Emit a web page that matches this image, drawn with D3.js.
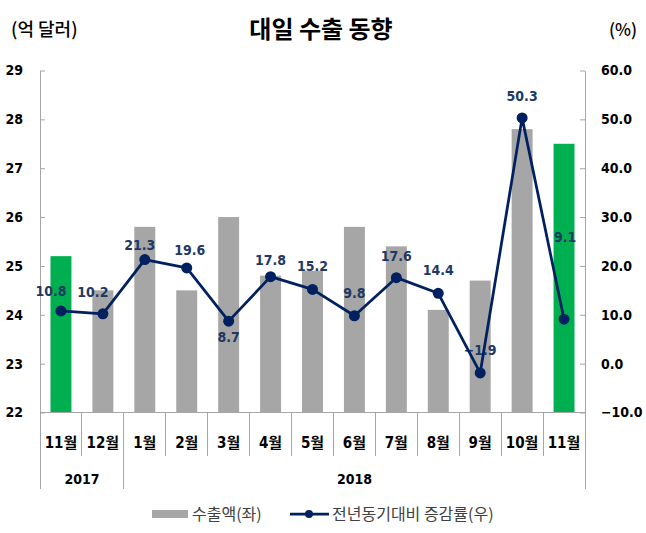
<!DOCTYPE html>
<html><head><meta charset="utf-8">
<script src="https://cdn.jsdelivr.net/npm/d3@7"></script>
<style>
html,body{margin:0;padding:0;background:#fff;}
svg{display:block;}
</style></head>
<body>
<svg id="c" width="646" height="533"></svg>
<script>
// ---- data ----
const months = ["11월","12월","1월","2월","3월","4월","5월","6월","7월","8월","9월","10월","11월"];
const years = [{label:"2017", from:0, to:2},{label:"2018", from:2, to:13}];
const exportsUSD = [25.2,24.5,25.8,24.5,26.0,24.8,24.9,25.8,25.4,24.1,24.7,27.8,27.5];
const yoyRate = [10.8,10.2,21.3,19.6,8.7,17.8,15.2,9.8,17.6,14.4,-1.9,50.3,9.1];
const highlight = [true,false,false,false,false,false,false,false,false,false,false,false,true];
const leftTicks = [22,23,24,25,26,27,28,29];
const rightTicks = [-10,0,10,20,30,40,50,60];

// ---- layout (label offsets, not data) ----
const labelDx = [-10,-10,-5,3,0,0,0,0,0,0,0,0,1];
const labelDy = [-15,-17,-10,-13,21,-12,-18,-18,-17,-18,-18,-17,-77];

const svg = d3.select("#c");
const L = 40, R = 585, T = 70.5, B = 412.5;
const fontNum = "'DejaVu Sans Condensed','DejaVu Sans','Noto Sans CJK KR',sans-serif";
const fontKR = "'Noto Sans CJK KR','DejaVu Sans',sans-serif";
const axisColor = "#A6A6A6";

const x = d3.scaleBand().domain(d3.range(months.length)).range([L,R]).paddingInner(0).paddingOuter(0);
const yL = d3.scaleLinear().domain([22,29]).range([B,T]);
const yR = d3.scaleLinear().domain([-10,60]).range([B,T]);

// title & unit labels
svg.append("text").attr("x",321).attr("y",38).attr("text-anchor","middle")
  .attr("font-family",fontKR).attr("font-weight","bold").attr("font-size",24).attr("fill","#000").text("대일 수출 동향");
svg.append("text").attr("x",11).attr("y",36).attr("font-family",fontKR).attr("font-weight",500).attr("font-size",18).attr("fill","#000").text("(억 달러)");
svg.append("text").attr("x",637).attr("y",36).attr("text-anchor","end").attr("font-family",fontKR).attr("font-weight",500).attr("font-size",17).attr("fill","#000").text("(%)");

// bars
svg.append("g").selectAll("rect").data(exportsUSD).join("rect")
  .attr("x",(d,i)=>x(i)+x.bandwidth()*0.25)
  .attr("width",x.bandwidth()*0.5)
  .attr("y",d=>yL(d))
  .attr("height",d=>B-yL(d))
  .attr("fill",(d,i)=>highlight[i]?"#00B050":"#A6A6A6");

// left axis
const gL = svg.append("g").attr("transform",`translate(${L},0)`)
  .call(d3.axisLeft(yL).tickValues(leftTicks).tickSize(-5).tickPadding(17).tickFormat(d3.format("d")));
gL.select(".domain").remove();
gL.selectAll(".tick line").attr("stroke",axisColor);
gL.selectAll(".tick text").attr("font-family",fontNum).attr("font-weight","bold").attr("font-size",14).attr("fill","#000");

// right axis
const gR = svg.append("g").attr("transform",`translate(${R},0)`)
  .call(d3.axisRight(yR).tickValues(rightTicks).tickSize(-5).tickPadding(16).tickFormat(d3.format(".1f")));
gR.select(".domain").remove();
gR.selectAll(".tick line").attr("stroke",axisColor);
gR.selectAll(".tick text").attr("font-family",fontNum).attr("font-weight","bold").attr("font-size",14).attr("fill","#000");

// axis frame lines
const frame = svg.append("g").attr("stroke",axisColor).attr("stroke-width",1).attr("shape-rendering","crispEdges");
frame.append("line").attr("x1",L).attr("x2",L).attr("y1",T).attr("y2",489);
frame.append("line").attr("x1",R).attr("x2",R).attr("y1",T).attr("y2",489);
frame.append("line").attr("x1",L).attr("x2",R).attr("y1",B).attr("y2",B);
const yearBounds = years.map(y=>y.from);
for(let i=1;i<months.length;i++){
  const bx = x(i);
  frame.append("line").attr("x1",bx).attr("x2",bx).attr("y1",B).attr("y2",yearBounds.includes(i)?489:456);
}

// month labels
svg.append("g").selectAll("text").data(months).join("text")
  .attr("x",(d,i)=>x(i)+x.bandwidth()/2).attr("y",448)
  .attr("text-anchor","middle").attr("font-family",fontNum).attr("font-weight","bold").attr("font-size",15).attr("fill","#000")
  .text(d=>d);
// year labels
svg.append("g").selectAll("text").data(years).join("text")
  .attr("x",d=>(x(d.from)+ (d.to<months.length?x(d.to):R))/2).attr("y",484)
  .attr("text-anchor","middle").attr("font-family",fontNum).attr("font-weight","bold").attr("font-size",14).attr("fill","#000")
  .text(d=>d.label);

// data labels (under the line)
const navy = "#002060";
svg.append("g").selectAll("text").data(yoyRate).join("text")
  .attr("x",(d,i)=>x(i)+x.bandwidth()/2+labelDx[i])
  .attr("y",(d,i)=>yR(d)+labelDy[i])
  .attr("text-anchor","middle").attr("font-family",fontNum).attr("font-weight","bold").attr("font-size",14).attr("fill","#1F3864")
  .text(d=>d3.format(".1f")(d));

// line
const line = d3.line().x((d,i)=>x(i)+x.bandwidth()/2).y(d=>yR(d));
svg.append("path").datum(yoyRate).attr("d",line).attr("fill","none").attr("stroke",navy).attr("stroke-width",2.75).attr("stroke-linejoin","round");
svg.append("g").selectAll("circle").data(yoyRate).join("circle")
  .attr("cx",(d,i)=>x(i)+x.bandwidth()/2).attr("cy",d=>yR(d)).attr("r",5.5).attr("fill",navy);

// legend
const lg = svg.append("g");
lg.append("rect").attr("x",152).attr("y",510).attr("width",36).attr("height",8).attr("fill","#A6A6A6");
lg.append("text").attr("x",192).attr("y",520).attr("font-family",fontKR).attr("font-size",16).attr("fill","#404040").text("수출액(좌)");
lg.append("line").attr("x1",290).attr("x2",329).attr("y1",514).attr("y2",514).attr("stroke",navy).attr("stroke-width",2.75);
lg.append("circle").attr("cx",309).attr("cy",514).attr("r",4).attr("fill",navy);
lg.append("text").attr("x",332).attr("y",520).attr("font-family",fontKR).attr("font-size",16).attr("fill","#404040").text("전년동기대비 증감률(우)");
</script>
</body></html>
